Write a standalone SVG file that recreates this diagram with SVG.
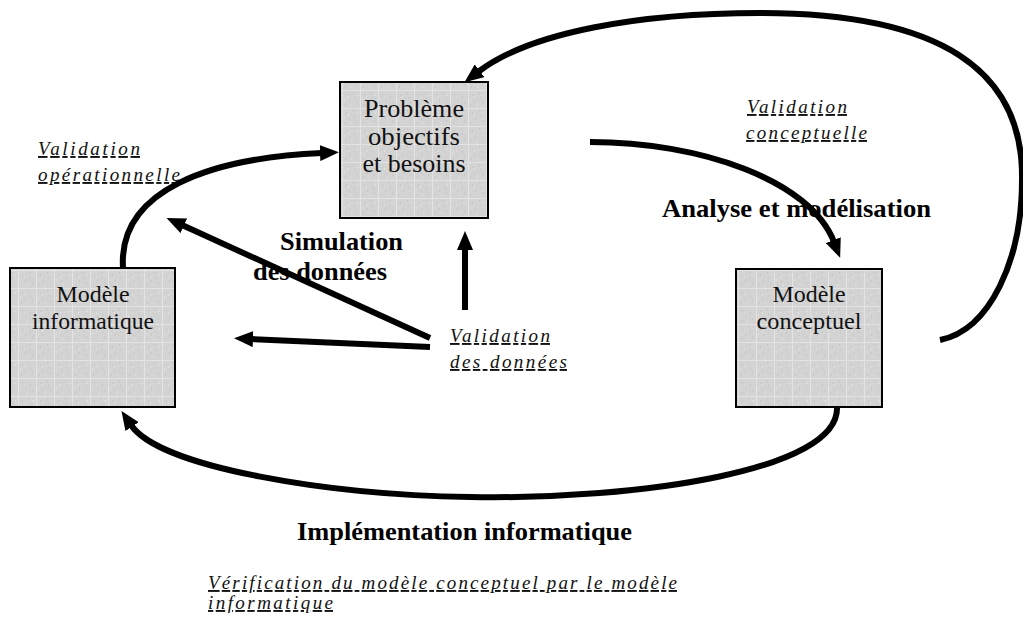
<svg xmlns="http://www.w3.org/2000/svg" width="1023" height="626" viewBox="0 0 1023 626">
<style>
.box{fill:url(#tex);stroke:#000;stroke-width:2}
.bt{font-family:"Liberation Serif","Times New Roman",Tinos,"Nimbus Roman","Noto Serif","DejaVu Serif",serif;font-size:24px;fill:#111;text-anchor:middle}
.bt26{font-size:26px}
.it{font-family:"Liberation Serif","Times New Roman",Tinos,"Nimbus Roman","Noto Serif","DejaVu Serif",serif;font-style:italic;font-size:19px;fill:#111;text-decoration:underline}
.bd{font-family:"Liberation Serif","Times New Roman",Tinos,"Nimbus Roman","Noto Serif","DejaVu Serif",serif;font-weight:bold;font-size:26px;fill:#000}
.c{fill:none;stroke:#000;stroke-width:6;marker-end:url(#ah)}
</style>
<defs>
<pattern id="tex" width="18" height="18" patternUnits="userSpaceOnUse">
<rect width="18" height="18" fill="#d3d3d3"/>
<path d="M0 0.5H18M0.5 0V18" stroke="#e3e3e3" stroke-width="1"/>
<path d="M4 5h1M11 3h1M7 11h1M14 13h1M3 15h1M12 8h1" stroke="#bdbdbd" stroke-width="1"/>
<path d="M6 7h1M15 5h1M9 15h1M2 10h1" stroke="#ececec" stroke-width="1"/>
</pattern>
<marker id="ah" markerUnits="userSpaceOnUse" markerWidth="20" markerHeight="16" refX="2" refY="8" orient="auto">
<path d="M0,0 L19,8 L0,16 z" fill="#000"/>
</marker>
</defs>
<rect width="1023" height="626" fill="#fff"/>

<g id="labels">
<text class="it" x="38" y="155" textLength="102" lengthAdjust="spacing">Validation</text>
<text class="it" x="38" y="181" textLength="142" lengthAdjust="spacing">opérationnelle</text>
<text class="it" x="747" y="113" textLength="100" lengthAdjust="spacing">Validation</text>
<text class="it" x="746" y="139" textLength="121" lengthAdjust="spacing">conceptuelle</text>
<text class="it" x="450" y="342" textLength="100" lengthAdjust="spacing">Validation</text>
<text class="it" x="450" y="368" textLength="117" lengthAdjust="spacing">des données</text>
<text class="it" x="208" y="589" textLength="469" lengthAdjust="spacing">Vérification du modèle conceptuel par le modèle</text>
<text class="it" x="208" y="609" textLength="125" lengthAdjust="spacing">informatique</text>
<text class="bd" x="662" y="217" textLength="269" lengthAdjust="spacingAndGlyphs">Analyse et modélisation</text>
<text class="bd" x="280" y="250" textLength="123" lengthAdjust="spacingAndGlyphs">Simulation</text>
<text class="bd" x="253" y="280" textLength="134" lengthAdjust="spacingAndGlyphs">des données</text>
<text class="bd" x="297" y="540" textLength="335" lengthAdjust="spacingAndGlyphs">Implémentation informatique</text>
</g>

<g id="connectors">
<path class="c" d="M940,340 C990,330 1022,260 1022,180 C1024,70 940,13 760,13 C640,13 530,32 478,72"/>
<path class="c" d="M590,142 C700,142 810,180 834,242"/>
<path class="c" d="M123,268 C118,190 210,158 322,153"/>
<path class="c" d="M430,338 L182,225"/>
<path class="c" d="M430,347 L251,339"/>
<path class="c" d="M465,310 L465,248"/>
<path class="c" d="M837,407 C840,470 640,500 470,497 C330,495 160,468 131,425"/>
</g>

<g id="node-probleme">
<rect class="box" x="340" y="82" width="148" height="136"/>
<text class="bt bt26" x="414" y="117" textLength="100" lengthAdjust="spacingAndGlyphs">Problème</text>
<text class="bt bt26" x="414" y="145" textLength="92" lengthAdjust="spacingAndGlyphs">objectifs</text>
<text class="bt bt26" x="414" y="172" textLength="103" lengthAdjust="spacingAndGlyphs">et besoins</text>
</g>
<g id="node-informatique">
<rect class="box" x="10" y="268" width="165" height="139"/>
<text class="bt" x="93" y="302" textLength="73" lengthAdjust="spacingAndGlyphs">Modèle</text>
<text class="bt" x="93" y="329" textLength="122" lengthAdjust="spacingAndGlyphs">informatique</text>
</g>
<g id="node-conceptuel">
<rect class="box" x="736" y="269" width="146" height="138"/>
<text class="bt" x="809" y="302" textLength="73" lengthAdjust="spacingAndGlyphs">Modèle</text>
<text class="bt" x="809" y="329" textLength="105" lengthAdjust="spacingAndGlyphs">conceptuel</text>
</g>
</svg>
